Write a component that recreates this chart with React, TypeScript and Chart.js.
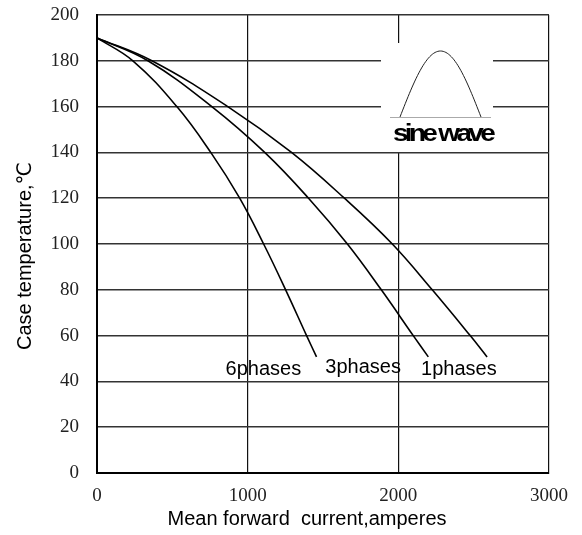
import { useEffect, useRef } from "react";
import { Chart, registerables } from "chart.js";

Chart.register(...registerables);

// ---- data ----
const xTickValues = [0, 1000, 2000, 3000];
const yTickValues = [0, 20, 40, 60, 80, 100, 120, 140, 160, 180, 200];
const seriesNames = ["6phases", "3phases", "1phases"];
const caseTemps = [190, 180, 160, 140, 120, 100, 80, 60, 50.7];
const current6phases = [0, 238, 530, 755, 947, 1106, 1252, 1391, 1457];
const current3phases = [0, 338, 762, 1113, 1404, 1662, 1887, 2099, 2199];
const current1phases = [0, 364, 868, 1291, 1642, 1960, 2225, 2477, 2589];
const xTitle = "Mean forward  current,amperes";
const yTitle = "Case temperature,℃";
const insetText = "sine wave";

const seriesCurrents = [current6phases, current3phases, current1phases];
// label offsets from each series' end point (dx of label left edge, dy of baseline)
const labelOffsets = [
  [-91, 18],
  [-103, 16],
  [-66, 18],
];

const SANS = "'Liberation Sans', Arial, 'DejaVu Sans', sans-serif";
const SERIF = "'Liberation Serif', 'Times New Roman', serif";

const overlayPlugin = {
  id: "overlay",
  beforeDatasetsDraw(chart: any) {
    const { ctx, chartArea } = chart;
    const { left, top } = chartArea;
    ctx.save();
    ctx.fillStyle = "#ffffff";
    ctx.fillRect(left + 284, top + 28, 112, 109);
    ctx.restore();
  },
  afterDatasetsDraw(chart: any) {
    const { ctx, chartArea } = chart;
    const { left, top, right, bottom } = chartArea;
    ctx.save();
    // sine wave inset
    const bx0 = left + 293;
    const bx1 = left + 394;
    const by = top + 102;
    ctx.strokeStyle = "#aaaaaa";
    ctx.lineWidth = 1;
    ctx.beginPath();
    ctx.moveTo(bx0, by + 0.5);
    ctx.lineTo(bx1, by + 0.5);
    ctx.stroke();
    const hx0 = left + 303;
    const hx1 = left + 384;
    const amp = 66;
    ctx.strokeStyle = "#222222";
    ctx.lineWidth = 1;
    ctx.beginPath();
    const n = 60;
    for (let i = 0; i <= n; i++) {
      const t = i / n;
      const px = hx0 + (hx1 - hx0) * t;
      const py = by - amp * Math.sin(Math.PI * t);
      if (i === 0) ctx.moveTo(px, py);
      else ctx.lineTo(px, py);
    }
    ctx.stroke();
    // "sine wave" label, squeezed bold
    ctx.fillStyle = "#000";
    ctx.font = `bold 23px ${SANS}`;
    (ctx as any).letterSpacing = "-3px";
    ctx.textBaseline = "alphabetic";
    ctx.textAlign = "left";
    const w = ctx.measureText(insetText).width;
    const targetW = 99;
    ctx.save();
    ctx.translate(left + 296, top + 126);
    ctx.scale(targetW / w, 1);
    ctx.fillText(insetText, 0, 0);
    ctx.restore();
    (ctx as any).letterSpacing = "0px";

    // series labels
    ctx.font = `20px ${SANS}`;
    ctx.fillStyle = "#000";
    const xs = chart.scales.x;
    const ys = chart.scales.y;
    seriesNames.forEach((name, i) => {
      const cur = seriesCurrents[i];
      const ex = xs.getPixelForValue(cur[cur.length - 1]);
      const ey = ys.getPixelForValue(caseTemps[caseTemps.length - 1]);
      ctx.fillText(name, ex + labelOffsets[i][0], ey + labelOffsets[i][1]);
    });

    // axis titles
    ctx.font = `20px ${SANS}`;
    ctx.textAlign = "center";
    ctx.textBaseline = "alphabetic";
    ctx.fillText(xTitle, (left + right) / 2 - 16, bottom + 52);
    ctx.save();
    ctx.translate(left - 72, (top + bottom) / 2 + 12);
    ctx.rotate(-Math.PI / 2);
    ctx.textBaseline = "middle";
    ctx.fillText(yTitle, 0, 0);
    ctx.restore();
    ctx.restore();
  },
};

export default function App() {
  const ref = useRef<HTMLCanvasElement | null>(null);
  useEffect(() => {
    document.body.style.margin = "0";
    const canvas = ref.current;
    if (!canvas) return;
    const chart = new Chart(canvas, {
      type: "line",
      data: {
        datasets: seriesNames.map((name, i) => ({
          label: name,
          data: seriesCurrents[i].map((x, j) => ({ x, y: caseTemps[j] })),
          borderColor: "#000000",
          borderWidth: 1.6,
          pointRadius: 0,
          fill: false,
          tension: 0.4,
        })),
      },
      options: {
        responsive: false,
        animation: false,
        layout: { padding: { top: 15, right: 33, left: 0, bottom: 0 } },
        plugins: {
          legend: { display: false },
          tooltip: { enabled: false },
          title: { display: false },
        },
        scales: {
          x: {
            type: "linear",
            min: 0,
            max: 3000,
            afterBuildTicks: (scale: any) => {
              scale.ticks = xTickValues.map((v) => ({ value: v }));
            },
            afterFit: (scale: any) => {
              scale.height = 62;
              scale.paddingLeft = 0;
              scale.paddingRight = 0;
            },
            ticks: {
              font: { family: SERIF, size: 19 },
              color: "#222",
              padding: 12,
              maxRotation: 0,
              callback: (v: any) => String(v),
            },
            grid: { color: "#111", lineWidth: 1.2, drawTicks: false },
            border: { display: true, color: "#000", width: 2 },
          },
          y: {
            type: "linear",
            min: 0,
            max: 200,
            afterBuildTicks: (scale: any) => {
              scale.ticks = yTickValues.map((v) => ({ value: v }));
            },
            afterFit: (scale: any) => {
              scale.width = 97;
              scale.paddingTop = 0;
              scale.paddingBottom = 0;
            },
            ticks: {
              font: { family: SERIF, size: 19 },
              color: "#222",
              padding: 18,
              callback: (v: any) => String(v),
            },
            grid: { color: "#333", lineWidth: 1.5, drawTicks: false },
            border: { display: true, color: "#000", width: 2 },
          },
        },
      },
      plugins: [overlayPlugin],
    } as any);
    return () => chart.destroy();
  }, []);
  return <canvas ref={ref} width={582} height={535} style={{ display: "block" }} />;
}
